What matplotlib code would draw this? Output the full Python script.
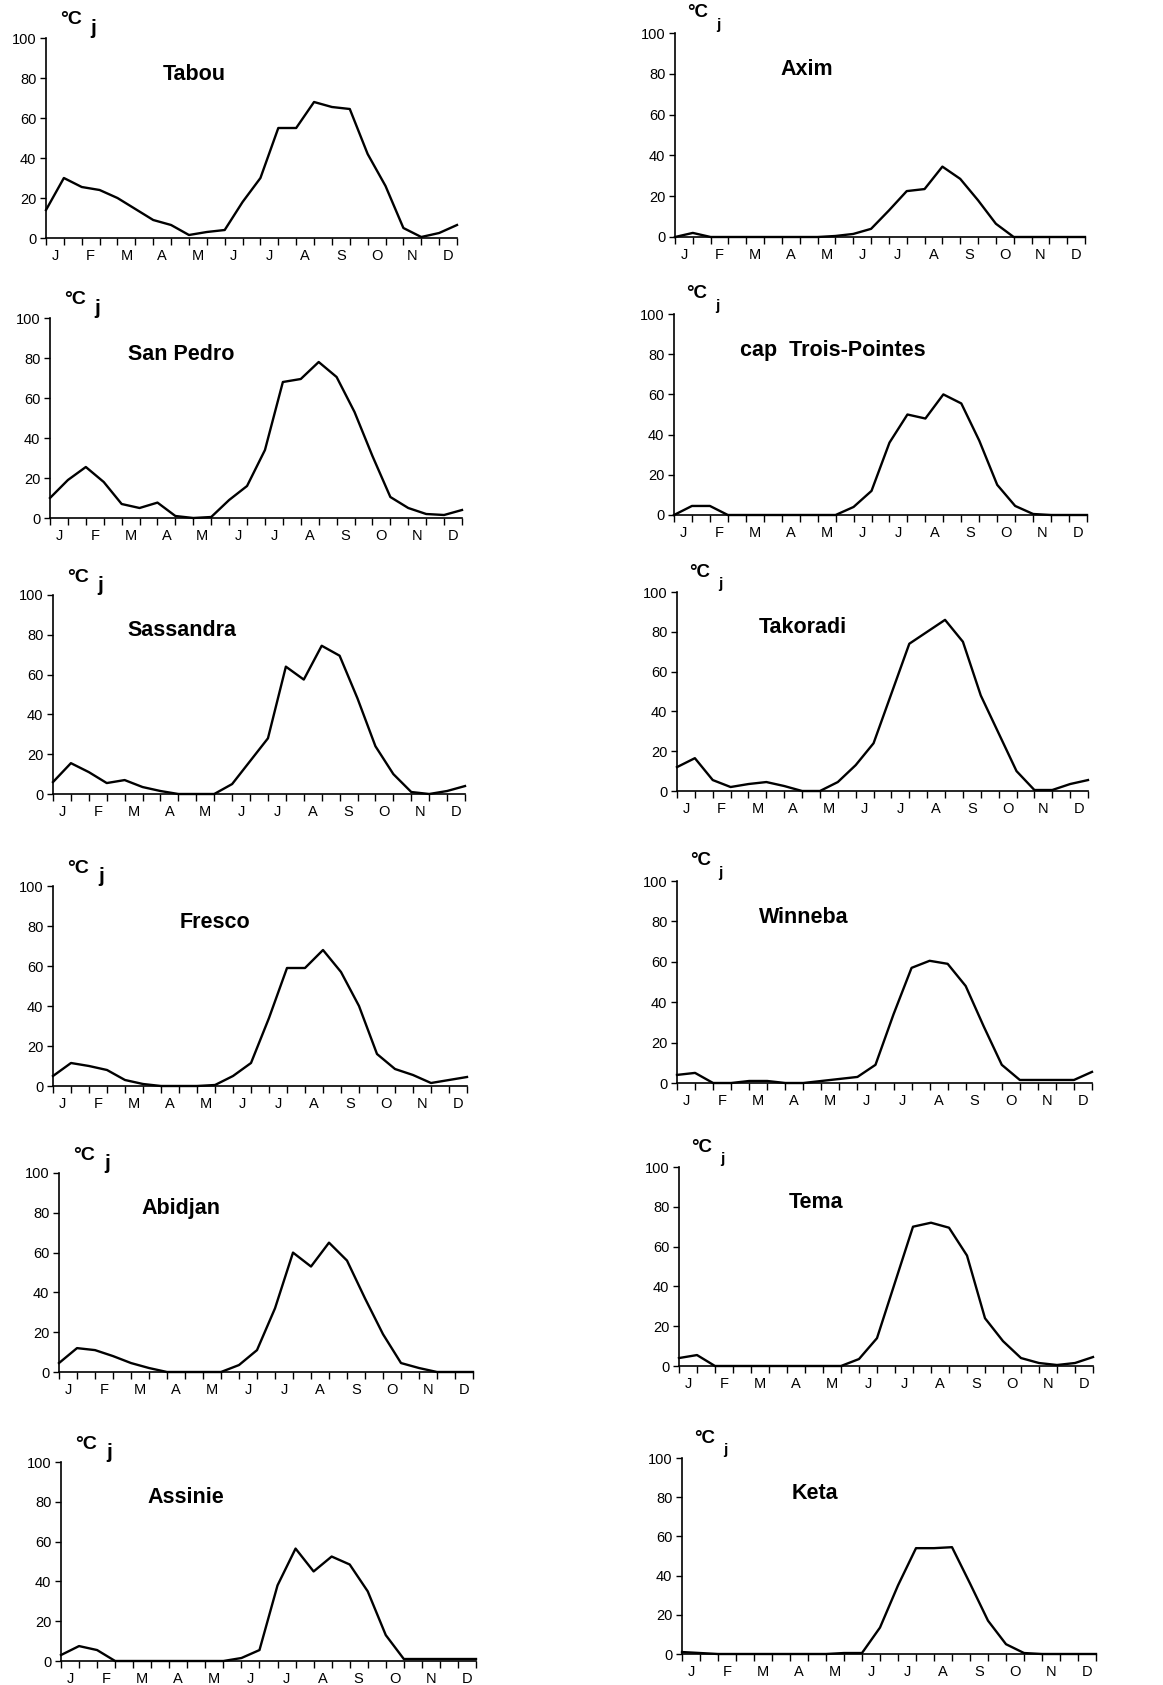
import matplotlib.pyplot as plt

plt.rcParams['font.family'] = ['Liberation Sans', 'DejaVu Sans']

# half-month steps, 24 points (0..23)
half_months = list(range(24))
month_labels = ['J', 'F', 'M', 'A', 'M', 'J', 'J', 'A', 'S', 'O', 'N', 'D']
y_ticks = [0, 20, 40, 60, 80, 100]

# degree-days per half month
tabou = [14, 30, 25.5, 24, 20, 14.5, 9, 6.5, 1.5, 3, 4, 18,
         30, 55, 55, 68, 65.5, 64.5, 42, 26, 5, 0.5, 2.5, 6.5]
san_pedro = [10, 19, 25.5, 18, 7, 5, 7.7, 1, 0, 0.5, 9, 16,
             34, 68, 69.5, 78, 70.5, 53, 31, 10.5, 5, 2, 1.5, 4]
sassandra = [6, 15.5, 11, 5.5, 7, 3.5, 1.5, 0, 0, 0, 5, 16.5,
             28, 64, 57.5, 74.5, 69.5, 48, 24, 10, 1, 0, 1.5, 4]
fresco = [5, 11.5, 10, 8, 3, 1, 0, 0, 0, 0.5, 5, 11.5,
          34, 59, 59, 68, 57, 40, 16, 8.5, 5.5, 1.5, 3, 4.5]
abidjan = [4.5, 12, 11, 8, 4.5, 2, 0, 0, 0, 0, 3.5, 11,
           32, 60, 53, 65, 56, 37, 19, 4.5, 2, 0, 0, 0]
assinie = [3, 7.5, 5.5, 0, 0, 0, 0, 0, 0, 0, 1.5, 5.5,
           38, 56.5, 45, 52.5, 48.5, 35, 13, 1, 1, 1, 1, 1]
axim = [0, 2, 0, 0, 0, 0, 0, 0, 0, 0.5, 1.5, 4,
        13, 22.5, 23.5, 34.5, 28.5, 18, 6.5, 0, 0, 0, 0, 0]
trois_pointes = [0, 4.5, 4.5, 0, 0, 0, 0, 0, 0, 0, 4, 12,
                 36, 50, 48, 60, 55.5, 37, 15, 4.5, 0.5, 0, 0, 0]
takoradi = [12, 16.5, 5.5, 2, 3.5, 4.5, 2.5, 0, 0, 4.5, 13, 24,
            49, 74, 80, 86, 75, 48, 29, 10, 0.5, 0.5, 3.5, 5.5]
winneba = [4, 5, 0, 0, 1, 1, 0, 0, 1, 2, 3, 9,
           34, 57, 60.5, 59, 48, 28, 9, 1.5, 1.5, 1.5, 1.5, 5.5]
tema = [4, 5.5, 0, 0, 0, 0, 0, 0, 0, 0, 3.5, 14,
        42, 70, 72, 69.5, 55.5, 24, 12.5, 4, 1.5, 0.5, 1.5, 4.5]
keta = [1, 0.5, 0, 0, 0, 0, 0, 0, 0, 0.5, 0.5, 13.5,
        35, 54, 54, 54.5, 36, 17, 5, 0.5, 0, 0, 0, 0]

stations = ['Tabou', 'San Pedro', 'Sassandra', 'Fresco', 'Abidjan', 'Assinie',
            'Axim', 'cap  Trois-Pointes', 'Takoradi', 'Winneba', 'Tema', 'Keta']
series = [tabou, san_pedro, sassandra, fresco, abidjan, assinie,
          axim, trois_pointes, takoradi, winneba, tema, keta]

# axes boxes in pixels: left, right, y of 0, y of 100 (from top)
W, H = 1163, 1685
boxes = [(46, 457, 238, 38), (50, 462, 518, 318), (53, 465, 794, 595),
         (53, 467, 1086, 886), (59, 473, 1372, 1173), (61, 476, 1661, 1462),
         (675, 1085, 237, 33), (674, 1087, 515, 314), (677, 1088, 791, 592),
         (677, 1092, 1083, 881), (679, 1093, 1366, 1167), (682, 1096, 1654, 1458)]
title_x = [8.3, 7.3, 7.2, 9.0, 6.8, 6.9, 7.4, 8.85, 7.05, 7.0, 7.6, 7.4]

fig = plt.figure(figsize=(W / 100, H / 100), dpi=100)

for i in range(12):
    left, right, y0, y100 = boxes[i]
    ax = fig.add_axes([left / W, 1 - y0 / H, (right - left) / W, (y0 - y100) / H])
    ax.plot(half_months, series[i], color='black', lw=1.7, clip_on=False)
    ax.set_xlim(0, 23)
    ax.set_ylim(0, 100)
    ax.spines['top'].set_visible(False)
    ax.spines['right'].set_visible(False)
    ax.spines['left'].set_linewidth(1.2)
    ax.spines['bottom'].set_linewidth(1.2)

    ax.set_yticks(y_ticks)
    ax.set_yticklabels([str(v) for v in y_ticks], fontsize=10.5)
    ax.tick_params(axis='y', direction='out', length=4, width=1, pad=3)

    ax.set_xticks(half_months)
    ax.set_xticklabels([])
    ax.tick_params(axis='x', which='major', direction='out', length=5, width=1)
    ax.set_xticks([2 * m + 0.5 for m in range(12)], minor=True)
    ax.set_xticklabels(month_labels, minor=True, fontsize=10.5)
    ax.tick_params(axis='x', which='minor', length=0, pad=8)

    ax.text(title_x[i], 82, stations[i], ha='center', va='center',
            fontsize=15.5, fontweight='bold')
    if i < 6:
        ax.text(0.8, 109, '°C', ha='left', va='center', fontsize=14, fontweight='bold',
                clip_on=False)
        ax.text(2.5, 105, 'j', ha='left', va='center', fontsize=15, fontweight='bold',
                clip_on=False)
    else:
        ax.text(0.7, 110, '°C', ha='left', va='center', fontsize=13.5, fontweight='bold',
                clip_on=False)
        ax.text(2.3, 104, 'j', ha='left', va='center', fontsize=11, fontweight='bold',
                clip_on=False)

plt.savefig('out.png', dpi=100)
